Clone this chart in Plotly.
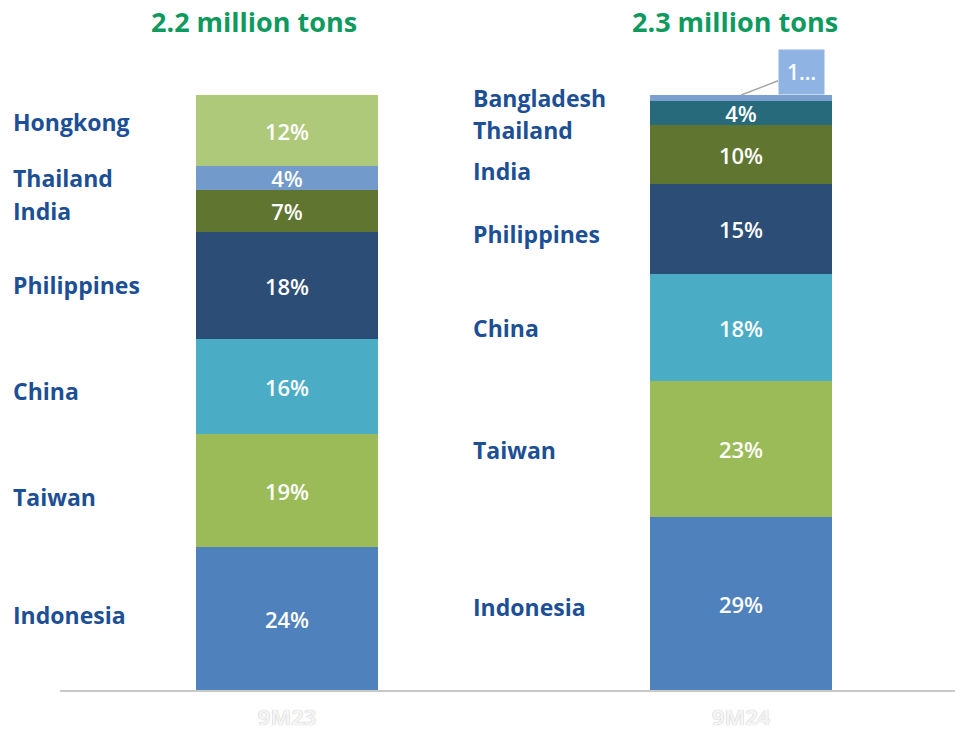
import plotly.graph_objects as go

# ---------------- data ----------------
periods = ["9M23", "9M24"]
titles = ["2.2 million tons", "2.3 million tons"]
countries = ["Indonesia", "Taiwan", "China", "Philippines", "India", "Thailand", "Hongkong", "Bangladesh"]
share_9m23 = [24, 19, 16, 18, 7, 4, 12, None]
share_9m24 = [29, 23, 18, 15, 10, 4, None, 1]
labels_left = ["Hongkong", "Thailand", "India", "Philippines", "China", "Taiwan", "Indonesia"]
labels_right = ["Bangladesh", "Thailand", "India", "Philippines", "China", "Taiwan", "Indonesia"]

# ---------------- style ----------------
colors_9m23 = {"Indonesia": "#4f81bd", "Taiwan": "#9bbb59", "China": "#4bacc6", "Philippines": "#2c4d75",
               "India": "#5f7530", "Thailand": "#729aca", "Hongkong": "#afc97b", "Bangladesh": "#7ba0cf"}
colors_9m24 = dict(colors_9m23, Thailand="#276a7c")
LABEL_BLUE = "#1c4f95"
TITLE_GREEN = "#0e9a5e"
W, H = 955, 735
ML, MR, MT, MB = 60, 0, 95, 45
PW, PH = W - ML - MR, H - MT - MB


def px_x(px):
    return (px - ML) / PW


def px_y(py):
    return (H - MB - py) / PH


left_label_y = [122, 178, 211, 285, 391, 497, 615]
right_label_y = [98, 130, 171, 234, 328, 450, 607]

fig = go.Figure()
for i, c in enumerate(countries):
    vals = [share_9m23[i], share_9m24[i]]
    texts = [f"{v}%" if (v is not None and c != "Bangladesh") else "" for v in vals]
    fig.add_trace(go.Bar(
        x=periods, y=vals, name=c,
        marker=dict(color=[colors_9m23[c], colors_9m24[c]], line=dict(width=0)),
        text=texts, textposition="inside", insidetextanchor="middle",
        textfont=dict(color="white", size=22, family="Open Sans", weight=600),
        textangle=0, hoverinfo="skip", cliponaxis=False,
    ))

annotations = []
for name, py in zip(labels_left, left_label_y):
    annotations.append(dict(text=name, x=px_x(11), y=px_y(py), xref="paper", yref="paper",
                            xanchor="left", yanchor="middle", showarrow=False,
                            font=dict(family="Open Sans", size=23, color=LABEL_BLUE, weight=700)))
for name, py in zip(labels_right, right_label_y):
    annotations.append(dict(text=name, x=px_x(471), y=px_y(py), xref="paper", yref="paper",
                            xanchor="left", yanchor="middle", showarrow=False,
                            font=dict(family="Open Sans", size=23, color=LABEL_BLUE, weight=700)))
for t, px in zip(titles, [254, 735]):
    annotations.append(dict(text=t, x=px_x(px), y=px_y(21), xref="paper", yref="paper",
                            xanchor="center", yanchor="middle", showarrow=False,
                            font=dict(family="Open Sans", size=27, color=TITLE_GREEN, weight=700)))

# callout for the tiny Bangladesh slice
b_idx = countries.index("Bangladesh")
b_top = sum(v for v in share_9m24 if v is not None)
annotations.append(dict(text=f"{share_9m24[b_idx]}…", x=1, y=b_top, xref="x", yref="y",
                        ax=60, ay=-23,
                        showarrow=True, arrowhead=0, arrowcolor="#a6a6a6", arrowwidth=1.5,
                        bgcolor="#8fb4e3", borderpad=8,
                        font=dict(family="Open Sans", size=21, color="white", weight=600)))

fig.update_layout(
    width=W, height=H, margin=dict(l=ML, r=MR, t=MT, b=MB, autoexpand=False),
    barmode="stack", bargap=0, showlegend=False,
    plot_bgcolor="white", paper_bgcolor="white",
    annotations=annotations,
    uniformtext=dict(minsize=22, mode="show"),
    xaxis=dict(type="category", range=[-0.5, 1.471], showgrid=False, zeroline=False,
               showline=True, linecolor="#c8c8c8", linewidth=2, ticks="", automargin=False,
               ticklabelstandoff=7,
               tickfont=dict(family="Open Sans", size=22, color="#f4f4f4", weight=700,
                             shadow="0px 0px 1px #b0b0b0")),
    yaxis=dict(range=[0, 100], visible=False, automargin=False),
)
# bar width ~182 px over 454 px per category
fig.update_traces(width=0.401)

fig.write_html("out.html")
